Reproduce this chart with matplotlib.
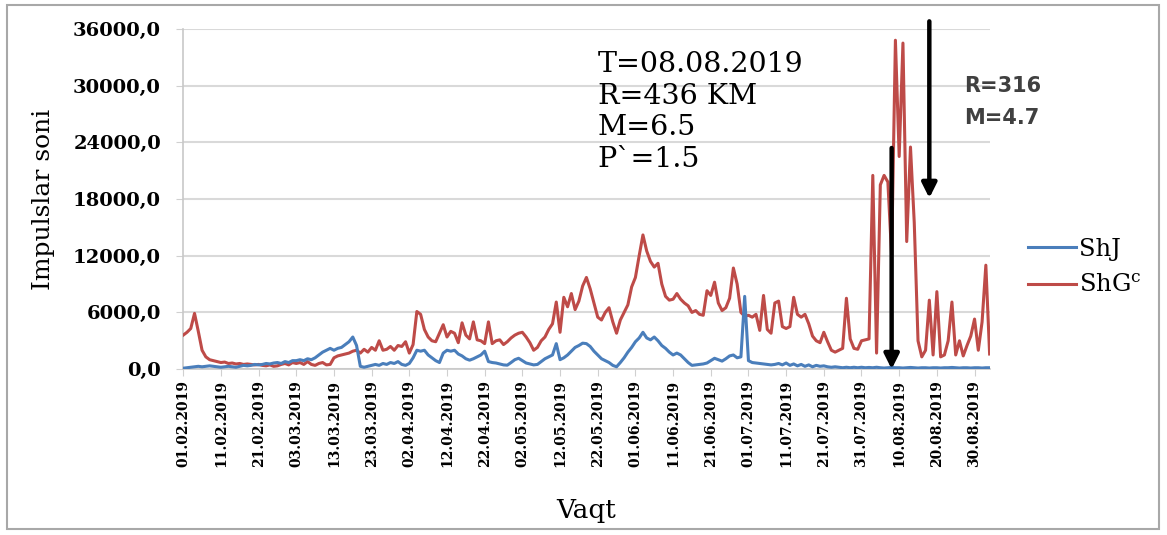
import matplotlib
matplotlib.use("Agg")
import matplotlib.pyplot as plt
import matplotlib.dates as mdates
from matplotlib.patches import Rectangle
import pandas as pd

# kunlik impulslar soni, 01.02.2019 dan boshlab
shj = [
    100, 150, 200, 250, 300, 250, 300, 350, 300, 250,
    200, 250, 300, 250, 200, 300, 400, 350, 400, 500,
    450, 500, 600, 550, 650, 700, 600, 800, 700, 900,
    900, 1000, 900, 1100, 1000, 1200, 1500, 1800, 2000, 2200,
    2000, 2200, 2300, 2600, 2900, 3400, 2500, 300, 200, 300,
    400, 500, 400, 600, 500, 700, 600, 800, 500, 400,
    600, 1200, 2000, 1900, 2000, 1500, 1200, 900, 700, 1700,
    2000, 1900, 2000, 1600, 1400, 1100, 950, 1100, 1300, 1500,
    1900, 800, 700, 650, 550, 450, 420, 700, 1000, 1150,
    900, 650, 550, 450, 500, 800, 1100, 1300, 1500, 2700,
    1000, 1200, 1500, 1900, 2300, 2500, 2750, 2700, 2400, 1900,
    1500, 1100, 900, 700, 400, 250, 700, 1200, 1800, 2300,
    2900, 3300, 3900, 3300, 3100, 3400, 3000, 2500, 2200, 1800,
    1500, 1700, 1500, 1100, 700, 400, 450, 500, 550, 650,
    900, 1150, 1000, 850, 1100, 1400, 1500, 1200, 1300, 7700,
    900, 700, 650, 600, 550, 500, 450, 500, 600, 450,
    650, 400, 550, 350, 500, 300, 450, 250, 400, 300,
    350, 250, 200, 250, 200, 150, 200, 150, 200, 150,
    200, 150, 180, 150, 200, 150, 120, 150, 180, 150,
    150, 120, 150, 180, 150, 120, 150, 150, 120, 150,
    150, 120, 150, 150, 180, 150, 120, 150, 150, 120,
    150, 150, 120, 150, 150,
]
shg = [
    3600, 3900, 4300, 5900, 4000, 2000, 1300, 1000, 900, 800,
    700, 750, 600, 650, 550, 600, 500, 550, 500, 450,
    500, 400, 350, 450, 300, 350, 500, 600, 450, 700,
    600, 700, 500, 800, 500, 400, 600, 700, 450, 500,
    1200, 1400, 1500, 1600, 1700, 1900, 2000, 1700, 2100, 1800,
    2300, 2000, 3000, 2000, 2100, 2400, 2000, 2500, 2400, 2900,
    1700, 2600, 6100, 5800, 4200, 3400, 3000, 2900, 3800, 4700,
    3400, 4000, 3800, 2800, 4900, 3600, 3200, 5000, 3100, 3000,
    2700, 5000, 2700, 3000, 3100, 2600, 2900, 3300, 3600, 3800,
    3900, 3400, 2800, 2000, 2300, 3000, 3400, 4200, 4800, 7100,
    3900, 7600, 6600, 8000, 6300, 7200, 8800, 9700, 8500, 7000,
    5500, 5200, 6000, 6500, 5000, 3800, 5200, 6000, 6800, 8700,
    9700, 12000, 14200, 12500, 11400, 10800, 11200, 9000, 7700, 7300,
    7400, 8000, 7400, 7000, 6700, 6000, 6200, 5800, 5700, 8300,
    7800, 9200, 7000, 6200, 6500, 7500, 10700, 9000, 6000, 5600,
    5700, 5500, 5800, 4100, 7800, 4200, 3800, 7000, 7200, 4500,
    4300, 4500, 7600, 5800, 5500, 5800, 4800, 3500, 3000, 2800,
    3900, 2900, 2000, 1800, 2000, 2200, 7500, 3200, 2200, 2100,
    3000, 3100, 3200, 20500, 1700, 19500, 20500, 19800, 12000, 34800,
    22500, 34500, 13500, 23500, 15500, 3000, 1300, 2000, 7300, 1500,
    8200, 1300, 1500, 3000, 7100, 1500, 3000, 1400, 2500, 3500,
    5300, 2000, 5000, 11000, 1600,
]
kunlar = pd.date_range("2019-02-01", periods=len(shg), freq="D")

# zilzilalar: (sana, strelka boshi, strelka uchi)
zilzila1 = (pd.Timestamp("2019-08-08"), 23400, 0)
zilzila2 = (pd.Timestamp("2019-08-18"), 36800, 18100)
matn1 = "T=08.08.2019\nR=436 KM\nM=6.5\nP`=1.5"
matn2 = "R=316\nM=4.7"

fig = plt.figure(figsize=(11.67, 5.35), dpi=100)
ax = fig.add_axes([0.157, 0.310, 0.691, 0.636])

ax.plot(kunlar, shg, color="#be4b48", lw=2.2, label="ShG$^{\\mathregular{c}}$", zorder=3)
ax.plot(kunlar, shj, color="#4a7ebb", lw=2.2, label="ShJ", zorder=4)

ax.set_ylim(0, 36000)
ax.set_xlim(kunlar[0], kunlar[-1])
ax.set_yticks(range(0, 36001, 6000))
ax.set_yticklabels([f"{v},0" for v in range(0, 36001, 6000)],
                   fontfamily="DejaVu Serif", fontweight="bold", fontsize=14)
ax.set_xticks(kunlar[::10])
ax.xaxis.set_major_formatter(mdates.DateFormatter("%d.%m.%Y"))
for t in ax.get_xticklabels():
    t.set_rotation(90)
    t.set_fontfamily("DejaVu Serif")
    t.set_fontweight("bold")
    t.set_fontsize(10)

ax.grid(axis="y", color="#d9d9d9", lw=1.5)
ax.set_axisbelow(True)
for s in ["top", "right"]:
    ax.spines[s].set_visible(False)
ax.spines["left"].set_color("#c8c8c8")
ax.spines["bottom"].set_color("#c8c8c8")
ax.spines["left"].set_linewidth(1.2)
ax.spines["bottom"].set_linewidth(1.2)
ax.tick_params(axis="y", length=5, color="#d0d0d0", pad=11)
ax.tick_params(axis="x", length=5, color="#d0d0d0", pad=3)

ax.set_ylabel("Impulslar soni", fontfamily="DejaVu Serif", fontsize=18, labelpad=13)
ax.set_xlabel("Vaqt", fontfamily="DejaVu Serif", fontsize=19, labelpad=22)

# strelkalar
for sana, y0, y1 in (zilzila1, zilzila2):
    ax.annotate("", xy=(sana, y1), xytext=(sana, y0), annotation_clip=False,
                arrowprops=dict(arrowstyle="-|>", color="black", lw=3.2,
                                mutation_scale=22, shrinkA=0, shrinkB=0),
                zorder=6)

ax.text(0.514, 0.935, matn1, transform=ax.transAxes, va="top", ha="left",
        fontfamily="DejaVu Serif", fontsize=20.5, linespacing=1.22, zorder=7)
ax.text(0.969, 0.862, matn2, transform=ax.transAxes, va="top", ha="left",
        fontfamily="DejaVu Sans", fontweight="bold", fontsize=15,
        color="#404040", linespacing=1.75, zorder=7)

h, l = ax.get_legend_handles_labels()
ax.legend(h[::-1], l[::-1], loc="center left", bbox_to_anchor=(0.862, 0.5),
          bbox_transform=fig.transFigure, frameon=False,
          prop={"family": "DejaVu Serif", "size": 17.5},
          handlelength=2.0, handletextpad=0.1, labelspacing=0.55)

fig.patches.append(Rectangle((0.006, 0.012), 0.987, 0.978, transform=fig.transFigure,
                             fill=False, edgecolor="#a8a8a8", lw=1.5))

fig.savefig("out.png", dpi=100)
